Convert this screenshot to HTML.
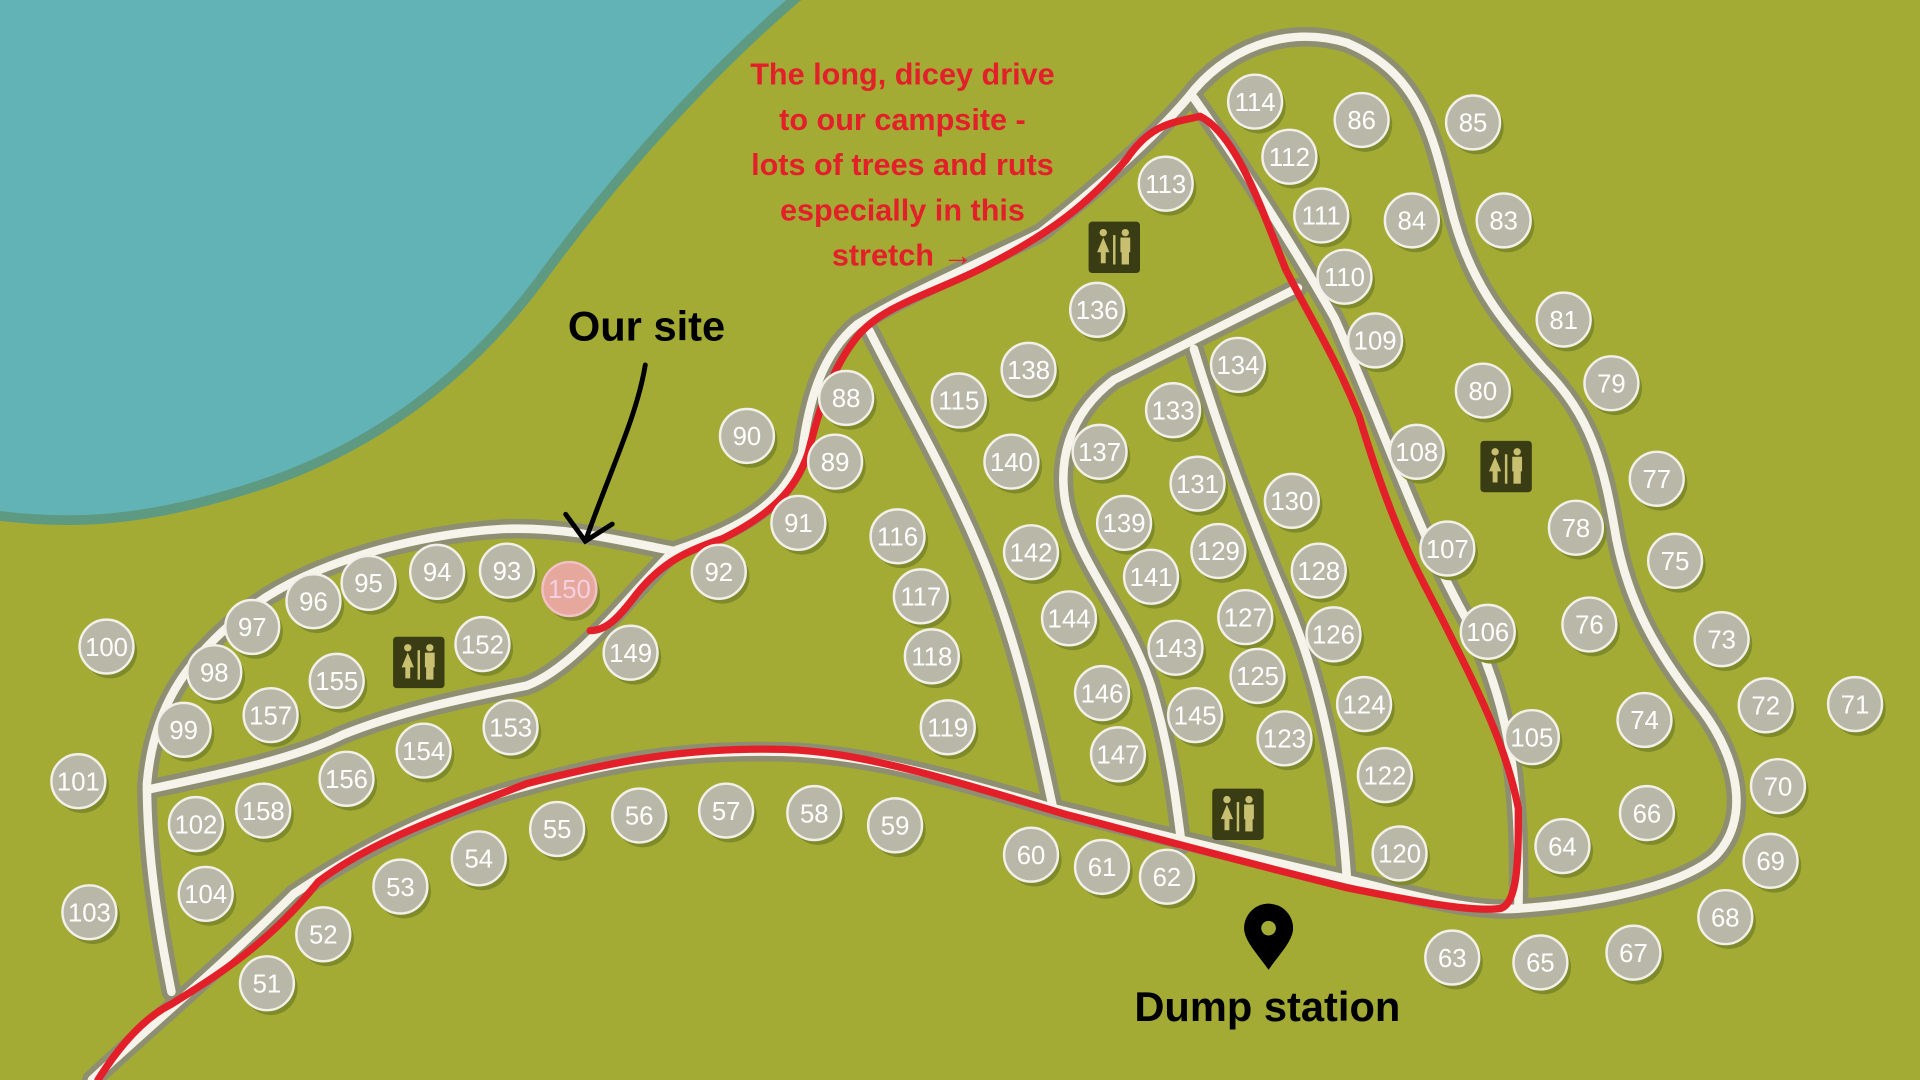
<!DOCTYPE html>
<html><head><meta charset="utf-8"><style>
html,body{margin:0;padding:0;width:1920px;height:1080px;overflow:hidden;background:#a3ab35}
svg{display:block}
.t text{fill:#fff;font-family:"Liberation Sans",sans-serif;font-size:21px;text-anchor:middle;dominant-baseline:central}
</style></head><body>
<svg width="1920" height="1080" viewBox="0 0 1568 882" preserveAspectRatio="none">
<defs>
<g id="b"><circle cx="3" cy="4" r="22" fill="#7f8a2a"/><circle r="22" fill="#b9b8a8" stroke="#f2f0e8" stroke-width="2"/></g>
<g id="wc" fill="#c8c070"><rect x="-21" y="-21" width="42" height="42" rx="3" fill="#3a3d14"/><circle cx="-9" cy="-12" r="3"/><path d="M-14,4 L-9,-8 L-4,4 Z"/><rect x="-11" y="3" width="4" height="10"/><rect x="-1" y="-10" width="2" height="24"/><circle cx="9" cy="-12" r="3"/><rect x="5" y="-8" width="8" height="12"/><rect x="6" y="3" width="6" height="11"/></g>
</defs>
<rect width="1568" height="882" fill="#a3ab35"/>
<path d="M-10,-10 L660,-10 C600,40 520,120 440,230 C380,310 300,370 200,400 C120,425 60,430 -10,420 Z" fill="#62b3b6" stroke="#5e9a82" stroke-width="8"/>
<g fill="none" stroke-linecap="round" stroke-linejoin="round">
<g stroke="#8e8e72" stroke-width="16">
<path d="M75,882 C120,840 180,790 240,730 C300,690 360,660 430,642 C500,622 560,612 640,614 C700,616 760,630 860,660 C920,675 980,690 1100,718 C1150,730 1200,745 1240,742 C1300,738 1370,725 1400,700 C1430,670 1420,620 1390,580 C1350,530 1330,490 1320,440 C1310,380 1300,340 1260,300 C1225,260 1200,230 1185,170 C1170,110 1160,60 1100,35 C1050,20 1000,40 970,80 C940,115 900,150 850,190 C800,215 740,240 700,265 C670,290 660,330 655,370 C640,410 610,430 550,450"/>
<path d="M550,450 C500,440 460,430 410,432 C340,436 250,460 200,500 C150,540 125,580 120,640 C120,700 130,760 140,810"/>
<path d="M120,645 C180,632 240,620 280,600 C330,580 380,570 430,560 C470,545 510,490 550,450"/>
<path d="M710,270 C740,330 770,380 800,450 C830,520 845,590 860,660"/>
<path d="M1060,235 C1010,260 960,285 910,310 C870,340 865,380 870,410 C880,460 920,500 940,560 C955,610 960,650 965,690"/>
<path d="M975,285 C995,350 1020,420 1050,490 C1080,560 1095,640 1100,718"/>
<path d="M975,80 C1010,130 1050,190 1090,260 C1130,350 1160,440 1200,510 C1235,580 1242,650 1240,742"/>
</g>
<g stroke="#f5f3ea" stroke-width="7">
<path d="M75,882 C120,840 180,790 240,730 C300,690 360,660 430,642 C500,622 560,612 640,614 C700,616 760,630 860,660 C920,675 980,690 1100,718 C1150,730 1200,745 1240,742 C1300,738 1370,725 1400,700 C1430,670 1420,620 1390,580 C1350,530 1330,490 1320,440 C1310,380 1300,340 1260,300 C1225,260 1200,230 1185,170 C1170,110 1160,60 1100,35 C1050,20 1000,40 970,80 C940,115 900,150 850,190 C800,215 740,240 700,265 C670,290 660,330 655,370 C640,410 610,430 550,450"/>
<path d="M550,450 C500,440 460,430 410,432 C340,436 250,460 200,500 C150,540 125,580 120,640 C120,700 130,760 140,810"/>
<path d="M120,645 C180,632 240,620 280,600 C330,580 380,570 430,560 C470,545 510,490 550,450"/>
<path d="M710,270 C740,330 770,380 800,450 C830,520 845,590 860,660"/>
<path d="M1060,235 C1010,260 960,285 910,310 C870,340 865,380 870,410 C880,460 920,500 940,560 C955,610 960,650 965,690"/>
<path d="M975,285 C995,350 1020,420 1050,490 C1080,560 1095,640 1100,718"/>
<path d="M975,80 C1010,130 1050,190 1090,260 C1130,350 1160,440 1200,510 C1235,580 1242,650 1240,742"/>
</g>
<path d="M80,882 C100,850 120,830 140,820 C180,795 220,770 260,720 C300,690 340,675 430,640 C500,622 560,610 640,612 C700,614 760,632 870,665 C920,678 980,695 1100,725 C1150,735 1200,745 1225,742 C1240,738 1240,700 1240,660 C1230,610 1210,570 1180,510 C1160,470 1140,440 1110,340 C1090,290 1070,260 1050,220 C1030,170 1010,110 980,95 C960,100 940,100 920,130 C890,165 860,190 800,220 C760,240 720,250 700,275 C680,300 670,330 660,370 C650,400 630,420 590,440 C560,450 540,460 520,485 C505,505 495,515 482,515" stroke="#e3202a" stroke-width="6"/>
</g>
<g>
<use href="#b" x="1025" y="83"/><use href="#b" x="1112" y="98"/><use href="#b" x="1203" y="100"/><use href="#b" x="1053" y="128"/><use href="#b" x="952" y="150"/><use href="#b" x="1079" y="176"/><use href="#b" x="1153" y="180"/><use href="#b" x="1228" y="180"/><use href="#b" x="1098" y="226"/><use href="#b" x="896" y="253"/><use href="#b" x="1277" y="261"/><use href="#b" x="1123" y="278"/><use href="#b" x="1011" y="298"/><use href="#b" x="840" y="302"/><use href="#b" x="783" y="327"/><use href="#b" x="691" y="325"/><use href="#b" x="1211" y="319"/><use href="#b" x="1316" y="313"/><use href="#b" x="958" y="335"/><use href="#b" x="610" y="356"/><use href="#b" x="682" y="377"/><use href="#b" x="826" y="377"/><use href="#b" x="898" y="369"/><use href="#b" x="1157" y="369"/><use href="#b" x="1353" y="391"/><use href="#b" x="978" y="395"/><use href="#b" x="1055" y="409"/><use href="#b" x="652" y="427"/><use href="#b" x="733" y="438"/><use href="#b" x="918" y="427"/><use href="#b" x="1287" y="431"/><use href="#b" x="842" y="451"/><use href="#b" x="995" y="450"/><use href="#b" x="1182" y="448"/><use href="#b" x="1368" y="458"/><use href="#b" x="587" y="467"/><use href="#b" x="357" y="467"/><use href="#b" x="414" y="466"/><use href="#b" x="301" y="476"/><use href="#b" x="1077" y="466"/><use href="#b" x="940" y="471"/><use href="#b" x="752" y="487"/><use href="#b" x="256" y="491"/><use href="#b" x="873" y="505"/><use href="#b" x="1017" y="504"/><use href="#b" x="1089" y="518"/><use href="#b" x="1215" y="516"/><use href="#b" x="1298" y="510"/><use href="#b" x="1406" y="522"/><use href="#b" x="206" y="512"/><use href="#b" x="394" y="526"/><use href="#b" x="87" y="528"/><use href="#b" x="515" y="533"/><use href="#b" x="761" y="536"/><use href="#b" x="960" y="529"/><use href="#b" x="1027" y="552"/><use href="#b" x="175" y="549"/><use href="#b" x="275" y="556"/><use href="#b" x="900" y="566"/><use href="#b" x="1114" y="575"/><use href="#b" x="1442" y="576"/><use href="#b" x="1515" y="575"/><use href="#b" x="221" y="584"/><use href="#b" x="150" y="596"/><use href="#b" x="417" y="594"/><use href="#b" x="774" y="594"/><use href="#b" x="976" y="584"/><use href="#b" x="1251" y="602"/><use href="#b" x="1343" y="588"/><use href="#b" x="1049" y="603"/><use href="#b" x="346" y="613"/><use href="#b" x="913" y="616"/><use href="#b" x="283" y="636"/><use href="#b" x="64" y="638"/><use href="#b" x="1131" y="633"/><use href="#b" x="1452" y="642"/><use href="#b" x="593" y="662"/><use href="#b" x="665" y="664"/><use href="#b" x="522" y="666"/><use href="#b" x="215" y="662"/><use href="#b" x="1345" y="664"/><use href="#b" x="160" y="673"/><use href="#b" x="731" y="674"/><use href="#b" x="455" y="677"/><use href="#b" x="1276" y="691"/><use href="#b" x="1143" y="697"/><use href="#b" x="842" y="698"/><use href="#b" x="391" y="701"/><use href="#b" x="1446" y="703"/><use href="#b" x="900" y="708"/><use href="#b" x="953" y="716"/><use href="#b" x="327" y="724"/><use href="#b" x="168" y="730"/><use href="#b" x="73" y="745"/><use href="#b" x="1409" y="749"/><use href="#b" x="264" y="763"/><use href="#b" x="1334" y="778"/><use href="#b" x="1186" y="782"/><use href="#b" x="1258" y="786"/><use href="#b" x="218" y="803"/>
<circle cx="468" cy="485" r="22" fill="#7f8a2a"/><circle cx="465" cy="481" r="22" fill="#e6a89c" stroke="#f3c0c8" stroke-width="2"/>
</g>
<g class="t">
<text x="1025" y="84">114</text><text x="1112" y="99">86</text><text x="1203" y="101">85</text><text x="1053" y="129">112</text><text x="952" y="151">113</text><text x="1079" y="177">111</text><text x="1153" y="181">84</text><text x="1228" y="181">83</text><text x="1098" y="227">110</text><text x="896" y="254">136</text><text x="1277" y="262">81</text><text x="1123" y="279">109</text><text x="1011" y="299">134</text><text x="840" y="303">138</text><text x="783" y="328">115</text><text x="691" y="326">88</text><text x="1211" y="320">80</text><text x="1316" y="314">79</text><text x="958" y="336">133</text><text x="610" y="357">90</text><text x="682" y="378">89</text><text x="826" y="378">140</text><text x="898" y="370">137</text><text x="1157" y="370">108</text><text x="1353" y="392">77</text><text x="978" y="396">131</text><text x="1055" y="410">130</text><text x="652" y="428">91</text><text x="733" y="439">116</text><text x="918" y="428">139</text><text x="1287" y="432">78</text><text x="842" y="452">142</text><text x="995" y="451">129</text><text x="1182" y="449">107</text><text x="1368" y="459">75</text><text x="587" y="468">92</text><text x="357" y="468">94</text><text x="414" y="467">93</text><text x="301" y="477">95</text><text x="465" y="482" style="fill:#f5d0e0">150</text><text x="1077" y="467">128</text><text x="940" y="472">141</text><text x="752" y="488">117</text><text x="256" y="492">96</text><text x="873" y="506">144</text><text x="1017" y="505">127</text><text x="1089" y="519">126</text><text x="1215" y="517">106</text><text x="1298" y="511">76</text><text x="1406" y="523">73</text><text x="206" y="513">97</text><text x="394" y="527">152</text><text x="87" y="529">100</text><text x="515" y="534">149</text><text x="761" y="537">118</text><text x="960" y="530">143</text><text x="1027" y="553">125</text><text x="175" y="550">98</text><text x="275" y="557">155</text><text x="900" y="567">146</text><text x="1114" y="576">124</text><text x="1442" y="577">72</text><text x="1515" y="576">71</text><text x="221" y="585">157</text><text x="150" y="597">99</text><text x="417" y="595">153</text><text x="774" y="595">119</text><text x="976" y="585">145</text><text x="1251" y="603">105</text><text x="1343" y="589">74</text><text x="1049" y="604">123</text><text x="346" y="614">154</text><text x="913" y="617">147</text><text x="283" y="637">156</text><text x="64" y="639">101</text><text x="1131" y="634">122</text><text x="1452" y="643">70</text><text x="593" y="663">57</text><text x="665" y="665">58</text><text x="522" y="667">56</text><text x="215" y="663">158</text><text x="1345" y="665">66</text><text x="160" y="674">102</text><text x="731" y="675">59</text><text x="455" y="678">55</text><text x="1276" y="692">64</text><text x="1143" y="698">120</text><text x="842" y="699">60</text><text x="391" y="702">54</text><text x="1446" y="704">69</text><text x="900" y="709">61</text><text x="953" y="717">62</text><text x="327" y="725">53</text><text x="168" y="731">104</text><text x="73" y="746">103</text><text x="1409" y="750">68</text><text x="264" y="764">52</text><text x="1334" y="779">67</text><text x="1186" y="783">63</text><text x="1258" y="787">65</text><text x="218" y="804">51</text>
</g>
<use href="#wc" x="910" y="202"/><use href="#wc" x="342" y="541"/><use href="#wc" x="1230" y="381"/><use href="#wc" x="1011" y="665"/>
<g font-family="Liberation Sans,sans-serif" font-weight="bold" text-anchor="middle">
<g fill="#e3202a" font-size="25">
<text x="737" y="69">The long, dicey drive</text>
<text x="737" y="106">to our campsite -</text>
<text x="737" y="143">lots of trees and ruts</text>
<text x="737" y="180">especially in this</text>
<text x="737" y="217">stretch →</text>
</g>
<text x="528" y="278" font-size="34" fill="#000">Our site</text>
<text x="1035" y="834" font-size="34" fill="#000">Dump station</text>
</g>
<path d="M527,298 C520,340 500,380 478,442 M462,420 L478,442 L500,428" fill="none" stroke="#000" stroke-width="4" stroke-linecap="round"/>
<path d="M1036,792 C1026,778 1016,768 1016,758 A20,20 0 0 1 1056,758 C1056,768 1046,778 1036,792 Z" fill="#000"/>
<circle cx="1036" cy="758" r="6" fill="#a3ab35"/>
</svg>
</body></html>
